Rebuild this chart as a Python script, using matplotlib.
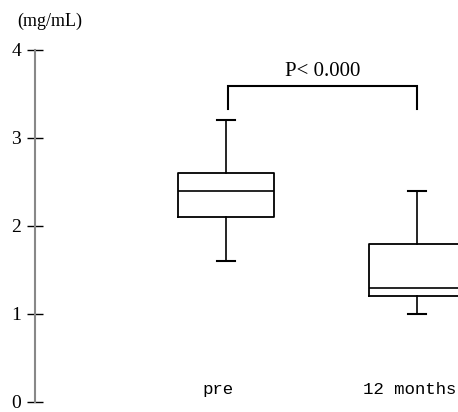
import matplotlib
matplotlib.use("Agg")
import matplotlib.pyplot as plt

# data
groups = ["pre", "12 months"]
whislo = [1.6, 1.0]
q1 = [2.1, 1.2]
med = [2.4, 1.3]
q3 = [2.6, 1.8]
whishi = [3.2, 2.4]
yticks = [0, 1, 2, 3, 4]
p_text = "P< 0.000"

fig = plt.figure(figsize=(4.58, 4.12), dpi=100)
W, H = 458, 412
ax = fig.add_axes([35 / W, 10 / H, (W - 35) / W, 352 / H])

stats = []
for i, g in enumerate(groups):
    stats.append(dict(label=g, whislo=whislo[i], q1=q1[i], med=med[i],
                      q3=q3[i], whishi=whishi[i], fliers=[]))

ax.bxp(stats, positions=[1, 2], widths=0.503, showfliers=False,
       boxprops=dict(color="black", linewidth=1.3),
       medianprops=dict(color="black", linewidth=1.2),
       whiskerprops=dict(color="black", linewidth=1.2),
       capprops=dict(color="black", linewidth=1.5),
       capwidths=0.094)

ax.set_xlim(0.0, 2.215)
ax.set_ylim(0, 4)
ax.set_xticks([])
ax.set_yticks(yticks)
ax.set_yticklabels([str(t) for t in yticks], family="Liberation Serif", fontsize=14)
ax.tick_params(axis="y", direction="inout", length=12, width=1, color="black", pad=4)

for s in ["top", "right", "bottom"]:
    ax.spines[s].set_visible(False)
ax.spines["left"].set_color("#888888")
ax.spines["left"].set_linewidth(1.5)

# group labels inside the plot, slightly left of the boxes
for i, g in enumerate(groups):
    ax.text(i + 1 - 0.04, 0.14, g, ha="center", va="center",
            family="Liberation Mono", fontsize=12.5)

# significance bracket
ax.plot([1.01, 1.01, 2.0, 2.0], [3.33, 3.59, 3.59, 3.33], color="black", lw=1.5,
        solid_joinstyle="miter")
ax.text(1.505, 3.75, p_text, ha="center", va="center", family="Liberation Serif", fontsize=15)

fig.text(17 / W, 1 - 21 / H, "(mg/mL)", ha="left", va="center", family="Liberation Serif", fontsize=13)

fig.savefig("out.png", dpi=100)
